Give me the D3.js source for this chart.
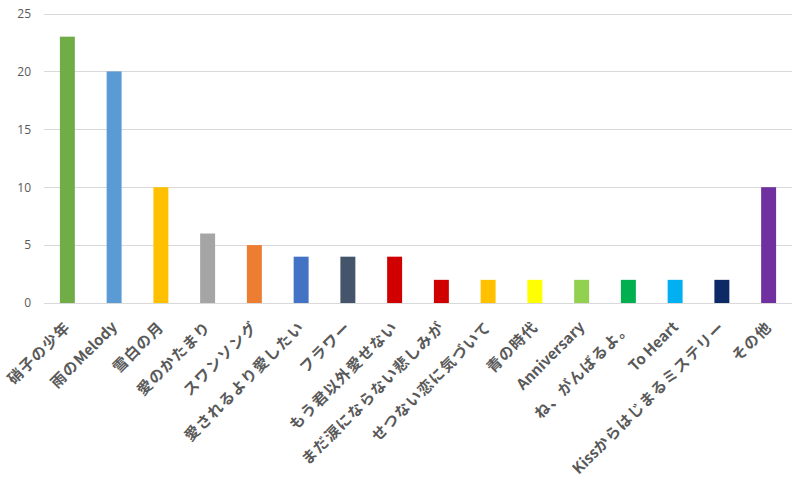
<!DOCTYPE html>
<html>
<head>
<meta charset="utf-8">
<script src="https://d3js.org/d3.v7.min.js"></script>
<style>
  body { margin: 0; background: #fff; }
  svg { display: block; }
</style>
</head>
<body>
<svg width="800" height="483"></svg>
<script>
// chart data
const songs = ["硝子の少年", "雨のMelody", "雪白の月", "愛のかたまり", "スワンソング", "愛されるより愛したい",
  "フラワー", "もう君以外愛せない", "まだ涙にならない悲しみが", "せつない恋に気づいて", "青の時代",
  "Anniversary", "ね、がんばるよ。", "To Heart", "Kissからはじまるミステリー", "その他"];
const counts = [23, 20, 10, 6, 5, 4, 4, 4, 2, 2, 2, 2, 2, 2, 2, 10];
const barColors = ["#70AD47", "#5B9BD5", "#FFC000", "#A5A5A5", "#ED7D31", "#4472C4", "#44546A", "#D00000",
  "#D00000", "#FFC000", "#FFFF00", "#92D050", "#00B050", "#00B0F0", "#0E2A66", "#7030A0"];
const yTicks = [0, 5, 10, 15, 20, 25];

const svg = d3.select("svg");
const plotLeft = 44, plotRight = 792, plotTop = 13.5, plotBottom = 303;

const x = d3.scaleBand().domain(songs).range([plotLeft, plotRight]).paddingInner(0.68).paddingOuter(0.34);
const y = d3.scaleLinear().domain([0, 25]).range([plotBottom, plotTop]);

// gridlines
svg.append("g").selectAll("line")
  .data(yTicks)
  .enter().append("line")
  .attr("x1", plotLeft).attr("x2", plotRight)
  .attr("y1", d => Math.round(y(d)) + 0.5).attr("y2", d => Math.round(y(d)) + 0.5)
  .attr("stroke", "#d9d9d9").attr("stroke-width", 1);

// y axis labels
const yAxis = svg.append("g")
  .attr("transform", `translate(${plotLeft - 13},0)`)
  .call(d3.axisLeft(y).tickValues(yTicks).tickSize(0).tickPadding(0));
yAxis.select(".domain").remove();
yAxis.selectAll("text")
  .attr("fill", "#595959")
  .style("font-family", "'Open Sans', 'Noto Sans', sans-serif")
  .style("font-size", "12px");

// bars
svg.append("g").selectAll("rect")
  .data(songs)
  .enter().append("rect")
  .attr("x", d => x(d))
  .attr("width", x.bandwidth())
  .attr("y", (d, i) => y(counts[i]))
  .attr("height", (d, i) => y(0) - y(counts[i]))
  .attr("fill", (d, i) => barColors[i]);

// x labels, rotated; latin runs are kept tight, kana/kanji spaced a little
const labels = svg.append("g").selectAll("text")
  .data(songs)
  .enter().append("text")
  .attr("transform", d => `translate(${x(d) + x.bandwidth() / 2 + 4},${plotBottom + 25}) rotate(-45)`)
  .attr("text-anchor", "end")
  .attr("fill", "#595959")
  .attr("font-weight", "bold")
  .style("font-family", "'Noto Sans CJK JP', sans-serif")
  .style("font-size", "15px");

labels.selectAll("tspan")
  .data(d => d.match(/[\x20-\x7e]+|[^\x20-\x7e]+/g))
  .enter().append("tspan")
  .style("letter-spacing", d => /^[\x20-\x7e]+$/.test(d) ? "0px" : "1.2px")
  .text(d => d);
</script>
</body>
</html>
